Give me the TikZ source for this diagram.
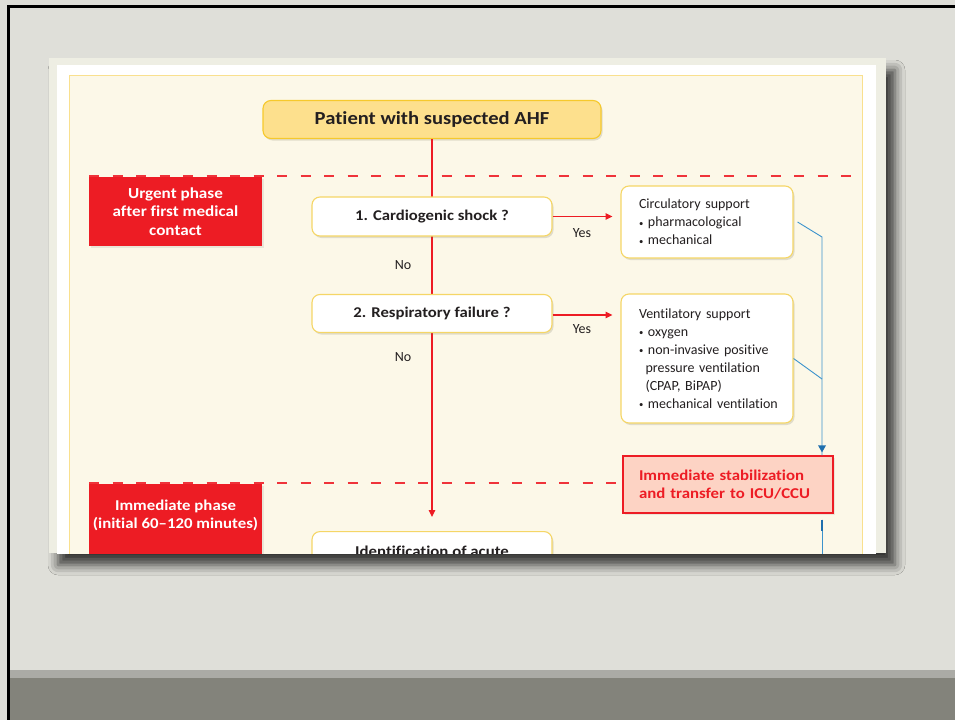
\documentclass[tikz,border=0pt]{standalone}
\usepackage{fontspec}
\setmainfont[Ligatures={TeX,NoCommon},BoldFeatures={FakeStretch=1.12}]{Carlito}
\usetikzlibrary{arrows.meta,shadows,shadows.blur,calc}

\definecolor{slidebg}{HTML}{DFDFD9}
\definecolor{bandlight}{HTML}{ABABA6}
\definecolor{banddark}{HTML}{83837B}
\definecolor{sheetedge}{HTML}{EEEEE3}
\definecolor{panelfill}{HTML}{FCF8E8}
\definecolor{panelline}{HTML}{F9E08E}
\definecolor{boxline}{HTML}{F5D666}
\definecolor{startfill}{HTML}{FDE08D}
\definecolor{startline}{HTML}{F6C92C}
\definecolor{alarmred}{HTML}{ED1C24}
\definecolor{icufill}{HTML}{FDD3C4}
\definecolor{inktext}{HTML}{231F20}
\definecolor{flowblue}{HTML}{3C93CC}
\definecolor{tipblue}{HTML}{1F6FAE}

% small list bullet
\newcommand\listdot{\raisebox{0.8pt}{\scalebox{0.62}{\textbullet}}\ }

\begin{document}
\begin{tikzpicture}[x=1pt,y=-1pt,
  softshadow/.style={drop shadow={shadow xshift=1.5pt,shadow yshift=-2pt,opacity=0.18,fill=black!70!yellow}},
  qbox/.style={draw=boxline,line width=1.1pt,fill=white,rounded corners=8pt,softshadow,
    minimum width=240pt,inner sep=0pt,text=inktext,font=\bfseries\fontsize{14.9}{17}\selectfont},
  startbox/.style={qbox,draw=startline,fill=startfill,font=\bfseries\fontsize{18.4}{20}\selectfont},
  infobox/.style={draw=boxline,line width=1.1pt,fill=white,rounded corners=8pt,softshadow,
    align=left,text width=136pt,inner xsep=18pt,inner ysep=0pt,text=inktext,
    font=\fontsize{14}{18}\selectfont},
  phasebox/.style={fill=alarmred,minimum width=173pt,inner sep=0pt,
    drop shadow={shadow xshift=2pt,shadow yshift=-2pt,opacity=0.15}},
  phasetext/.style={align=center,text=white,font=\bfseries\fontsize{15.3}{18.5}\selectfont},
  icubox/.style={draw=alarmred,line width=1.3pt,fill=icufill,minimum width=210pt,minimum height=57pt,
    align=left,text width=178pt,inner xsep=16pt,text=alarmred,font=\bfseries\fontsize{15}{18}\selectfont,
    drop shadow={shadow xshift=2pt,shadow yshift=-2pt,opacity=0.15}},
  answer/.style={text=inktext,font=\fontsize{14}{15}\selectfont,inner sep=0pt},
  flow/.style={draw=alarmred,line width=1.2pt},
  flowarrow/.style={flow,-{Triangle[length=7pt,width=6.5pt]}},
  phaseline/.style={draw=alarmred!90!white,line width=1.3pt,dash pattern=on 10pt off 13.5pt},
  bluelink/.style={draw=flowblue,line width=0.9pt},
]
\useasboundingbox (0,0) rectangle (955,720);

% slide background, frame and footer bands
\fill[slidebg] (0,0) rectangle (955,720);
\fill[bandlight] (9.5,670) rectangle (955,678);
\fill[banddark] (9.5,678) rectangle (955,720);
\fill[black] (6.5,4.5) rectangle (955,7.5);
\fill[black] (6.5,4.5) rectangle (9.5,720);

% the pasted figure sheet with its cast shadow
\fill[sheetedge,blur shadow={shadow xshift=9pt,shadow yshift=-12pt,shadow blur radius=10pt,shadow opacity=75}]
  (49,58) rectangle (886,553);

\begin{scope}
\clip (49,58) rectangle (886,553);
\fill[white] (57,65) rectangle (876,600);
\filldraw[fill=panelfill,draw=panelline,line width=1pt] (69.5,75.5) rectangle (862.5,640);

% phase separators
\draw[phaseline] (89,176) -- (851,176);
\draw[phaseline] (89,483) -- (623,483);

% phase labels
\node[phasebox,minimum height=69pt,anchor=north] (urgent) at (175.5,176.8) {};
\node[phasetext] (urgentlabel) at (urgent.center) {Urgent phase\\after first medical\\contact};
\node[phasebox,minimum height=90pt,anchor=north] (immediate) at (175.5,483.8) {};
\node[phasetext,font=\bfseries\fontsize{15}{18.5}\selectfont] (immediatelabel) at (175.5,515.5) {Immediate phase\\(initial 60--120 minutes)};

% main decision column
\coordinate (spineend) at (432,517);
\node[startbox,minimum width=338pt,minimum height=38pt] (start) at (432,119.5) {Patient with suspected AHF};
\draw[flowarrow] (start.south) -- (spineend);

\node[qbox,minimum height=39pt] (shock) at (432,216.5) {1. Cardiogenic shock ?};
\node[qbox,minimum height=38pt] (resp) at (432,313.5) {2. Respiratory failure ?};
\node[qbox,minimum height=60pt,anchor=north] (ident) at (432,531) {};
\node[text=inktext,font=\bfseries\fontsize{15}{17}\selectfont,inner sep=0pt] (identlabel) at (432,551) {Identification of acute};

\node[answer] (no1) at (403,265) {No};
\node[answer] (no2) at (403,357) {No};

% support boxes
\node[infobox,minimum height=72pt] (circ) at (707,222) {\mbox{Circulatory support}\\\mbox{\listdot pharmacological}\\\mbox{\listdot mechanical}};
\node[infobox,minimum height=129pt] (vent) at (707,358.5) {\mbox{Ventilatory support}\\\mbox{\listdot oxygen}\\\mbox{\listdot non-invasive positive}\\\mbox{\hspace*{6.5pt}pressure ventilation}\\\mbox{\hspace*{6.5pt}(CPAP, BiPAP)}\\\mbox{\listdot mechanical ventilation}};

\draw[flowarrow] (shock.east) -- ++(60,0);
\draw[flowarrow] ($(resp.east)+(0,1.5)$) -- ++(60,0);
\node[answer] (yes1) at (582,233.5) {Yes};
\node[answer] (yes2) at (582,329.5) {Yes};

% escalation
\node[icubox] (icu) at (728,484.5) {Immediate stabilization\\and transfer to ICU/CCU};

\coordinate (circout) at ($(circ.east)+(4,0)$);
\coordinate (ventout) at (vent.east);
\coordinate (join1) at (822,237);
\coordinate (join2) at (822,379);
\draw[bluelink] (circout) -- (join1) -- (join1 |- icu.north);
\draw[bluelink] (ventout) -- (join2);
\fill[tipblue] ($(join1 |- icu.north)+(0,-3)$) -- ++(-4,-7) -- ++(8,0) -- cycle;
\coordinate (icuout) at ($(icu.south -| join1)+(0,6)$);
\coordinate (icunext) at (822,600);
\draw[bluelink] (icuout) -- (icunext);
\draw[tipblue,line width=1.2pt] (icuout) -- ++(0,11);
\end{scope}
\end{tikzpicture}
\end{document}
